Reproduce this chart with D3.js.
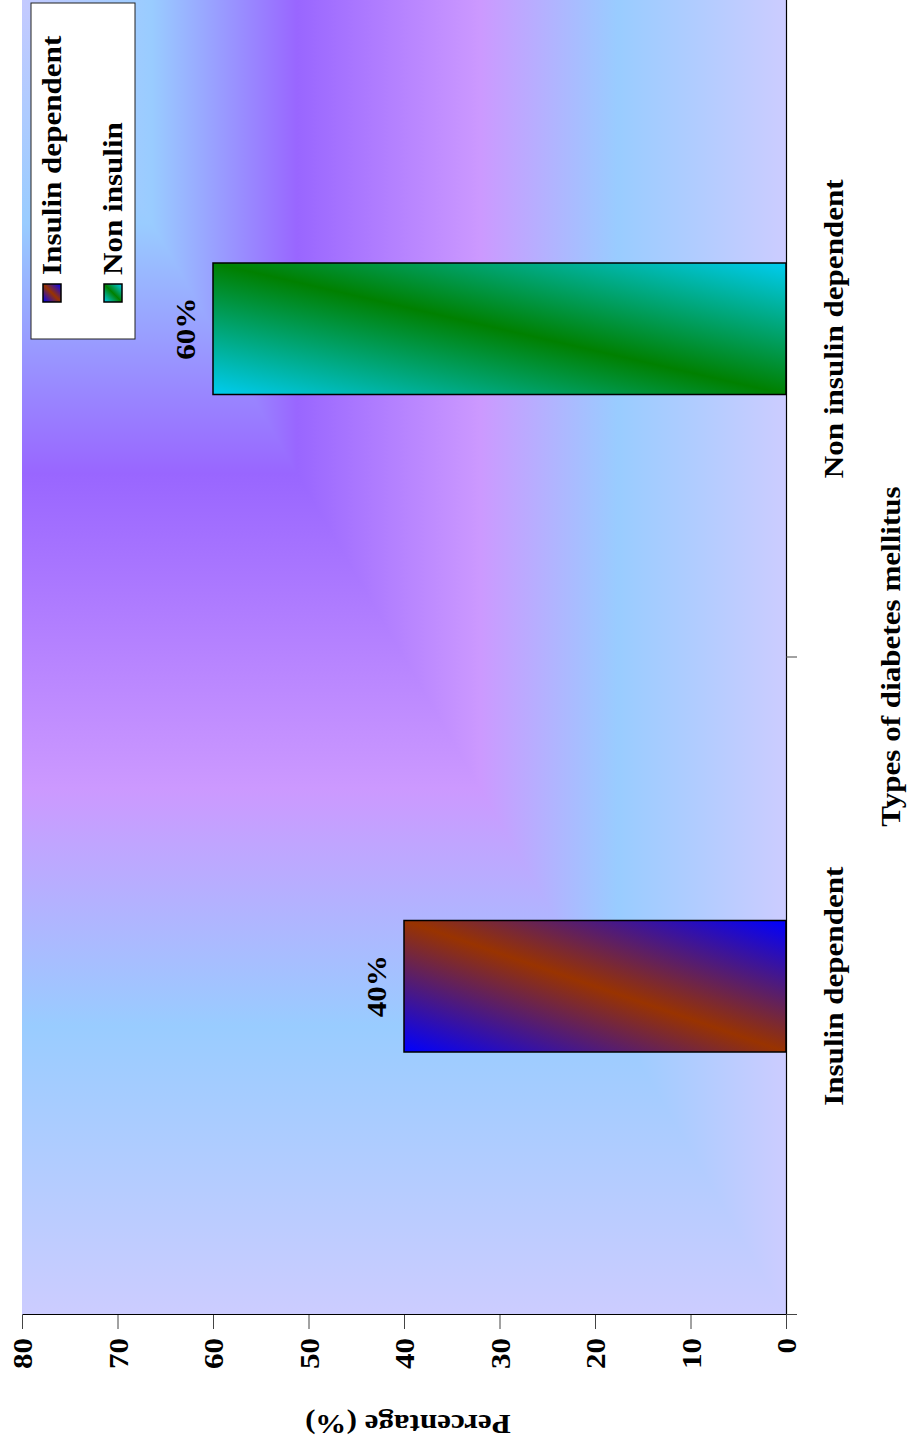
<!DOCTYPE html>
<html>
<head>
<meta charset="utf-8">
<script src="https://cdn.jsdelivr.net/npm/d3@7"></script>
<style>
  html, body { margin: 0; padding: 0; background: #fff; }
  svg { display: block; }
  text { font-family: "Liberation Serif", "Times New Roman", serif; font-weight: bold; fill: #000; }
</style>
</head>
<body>
<script>
// ---- data ----
const categories = ["Insulin dependent", "Non insulin dependent"];
const percentages = [40, 60];
const legendLabels = ["Insulin dependent", "Non insulin"];
const valueTicks = [0, 10, 20, 30, 40, 50, 60, 70, 80];
const valueMax = 80;
const categoryTitle = "Types of diabetes mellitus";
const valueTitle = "Percentage (%)";

// ---- layout ----
const W = 910, H = 1447;
const FONT = 28, STRETCH = 1.11;          // wide bold serif lettering
const plot = { left: 132, right: 1447, top: 22, bottom: 786 };

const svg = d3.select("body").append("svg").attr("width", W).attr("height", H);
const defs = svg.append("defs");

// The chart is laid out upright (H wide, W tall) and turned a quarter-turn counter-clockwise.
const g = svg.append("g").attr("transform", `translate(0,${H}) rotate(-90)`);

const x = d3.scaleBand().domain(categories).range([plot.left, plot.right]).paddingInner(0).paddingOuter(0);
const y = d3.scaleLinear().domain([0, valueMax]).range([plot.bottom, plot.top]);

// ---- plot-area fill: corner gradient (colour follows max of the two distances from the corner) ----
const bgStops = [
  [0.00, "#c4caff"],
  [0.17, "#99ccff"],
  [0.36, "#9966ff"],
  [0.60, "#cc99ff"],
  [0.78, "#99ccff"],
  [1.00, "#ccccff"]
];
function linGrad(id, x1, y1, x2, y2, stops, units) {
  const lg = defs.append("linearGradient").attr("id", id)
    .attr("gradientUnits", units || "userSpaceOnUse")
    .attr("x1", x1).attr("y1", y1).attr("x2", x2).attr("y2", y2);
  stops.forEach(([o, c]) => lg.append("stop").attr("offset", o).attr("stop-color", c));
}
linGrad("bgAcross", plot.right, 0, plot.left, 0, bgStops);
linGrad("bgDown", 0, plot.top, 0, plot.bottom, bgStops);

g.append("rect")
  .attr("x", plot.left).attr("y", plot.top)
  .attr("width", plot.right - plot.left).attr("height", plot.bottom - plot.top)
  .attr("fill", "url(#bgAcross)");
g.append("polygon")
  .attr("points", [[plot.right, plot.top], [plot.right, plot.bottom], [plot.left, plot.bottom]].join(" "))
  .attr("fill", "url(#bgDown)");

// ---- bar fills: diagonal two-tone bands ----
const barFills = [
  ["#0000ff", "#993300"],
  ["#00ccf0", "#008000"]
];
barFills.forEach(([edge, mid], i) => {
  linGrad("bar" + i, 0, 0, 1, 1, [[0, edge], [0.5, mid], [1, edge]], "objectBoundingBox");
});

// ---- bars ----
const barW = x.bandwidth() * 0.2;
g.selectAll("rect.bar").data(percentages).join("rect")
  .attr("class", "bar")
  .attr("x", (d, i) => x(categories[i]) + (x.bandwidth() - barW) / 2)
  .attr("y", d => y(d))
  .attr("width", barW)
  .attr("height", d => y(0) - y(d))
  .attr("fill", (d, i) => `url(#bar${i})`)
  .attr("stroke", "#000").attr("stroke-width", 1.5);

// helper for stretched text
function stretched(sel, tx, ty, rot) {
  sel.attr("x", 0).attr("y", 0)
    .attr("font-size", FONT)
    .attr("transform", `translate(${tx},${ty})${rot ? ` rotate(${rot})` : ""} scale(${STRETCH},1)`);
  return sel;
}

// ---- value labels ----
g.selectAll("text.val").data(percentages).join("text")
  .attr("class", "val")
  .attr("text-anchor", "middle")
  .each(function (d, i) {
    stretched(d3.select(this), x(categories[i]) + x.bandwidth() / 2, y(d) - 18);
  })
  .text(d => d + "%");

// ---- value axis ----
const yAxis = d3.axisLeft(y).tickValues(valueTicks).tickSize(14).tickPadding(9).tickSizeOuter(0);
const ya = g.append("g").attr("transform", `translate(${plot.left},0)`).call(yAxis);
ya.select(".domain").attr("stroke", "#000").attr("stroke-width", 1.2);
ya.selectAll(".tick line").attr("stroke", "#444").attr("stroke-width", 1);
ya.selectAll(".tick text")
  .attr("dy", "0.34em")
  .attr("x", 0)
  .attr("font-size", FONT)
  .attr("font-family", null)
  .attr("transform", `translate(-23,0) scale(${STRETCH},1)`);

// ---- category axis (ticks on band edges) ----
const edgeScale = d3.scaleLinear().domain([0, categories.length]).range([plot.left, plot.right]);
const xAxis = d3.axisBottom(edgeScale).tickValues(d3.range(categories.length + 1))
  .tickSize(11).tickSizeOuter(0).tickFormat("");
const xa = g.append("g").attr("transform", `translate(0,${plot.bottom})`).call(xAxis);
xa.select(".domain").attr("stroke", "#000").attr("stroke-width", 1.2);
xa.selectAll(".tick line").attr("stroke", "#444").attr("stroke-width", 1);

g.selectAll("text.cat").data(categories).join("text")
  .attr("class", "cat")
  .attr("text-anchor", "middle")
  .each(function (d) {
    stretched(d3.select(this), x(d) + x.bandwidth() / 2, plot.bottom + 57);
  })
  .text(d => d);

// ---- axis titles ----
stretched(g.append("text").attr("text-anchor", "middle"),
  (plot.left + plot.right) / 2 + 1, 900).text(categoryTitle);
stretched(g.append("text").attr("text-anchor", "middle"),
  32, (plot.top + plot.bottom) / 2 + 4, -90).text(valueTitle);

// ---- legend ----
const legend = g.append("g").attr("transform", "translate(1108,31)");
legend.append("rect")
  .attr("width", 336).attr("height", 104)
  .attr("fill", "#fff").attr("stroke", "#222").attr("stroke-width", 1);
const rows = legend.selectAll("g.row").data(legendLabels).join("g")
  .attr("class", "row")
  .attr("transform", (d, i) => `translate(0,${12 + i * 61})`);
rows.append("rect")
  .attr("x", 37).attr("y", 0).attr("width", 18).attr("height", 18)
  .attr("fill", (d, i) => `url(#bar${i})`)
  .attr("stroke", "#000").attr("stroke-width", 1.5);
rows.append("text").each(function () {
  stretched(d3.select(this), 64, 18);
}).text(d => d);
</script>
</body>
</html>
